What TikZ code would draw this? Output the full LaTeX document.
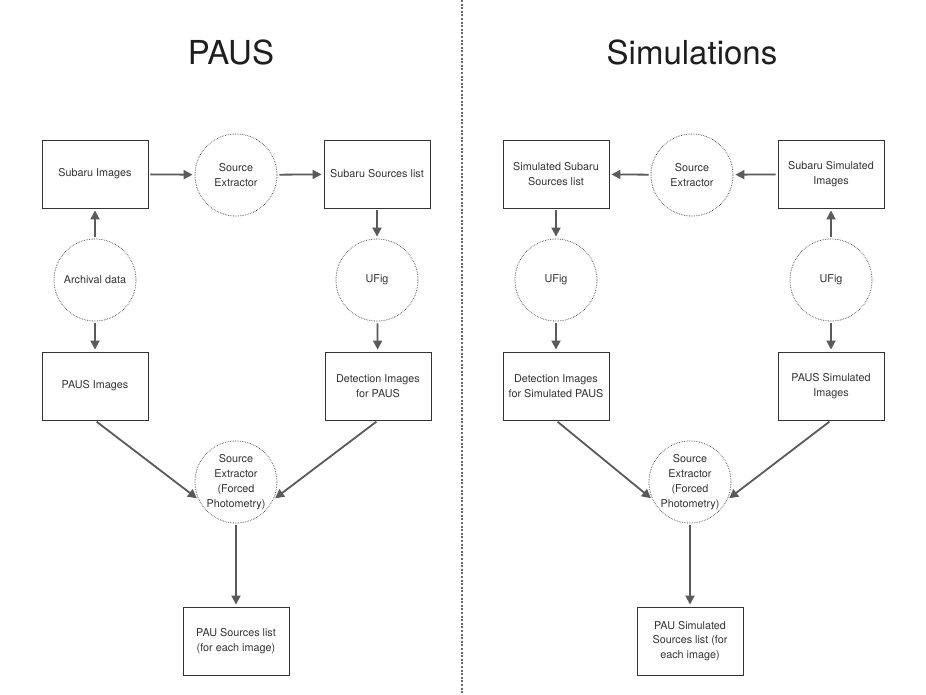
\documentclass[tikz,border=0pt]{standalone}
\usepackage{fontspec}
\setmainfont{TeX Gyre Heros}
\usetikzlibrary{arrows.meta}
\definecolor{boxc}{HTML}{333333}
\definecolor{circc}{HTML}{444444}
\definecolor{arrc}{HTML}{5A5A5A}
\definecolor{txt}{HTML}{333333}
\definecolor{ttl}{HTML}{1E1E1E}
\definecolor{sep}{HTML}{6A6A6A}
\begin{document}
\begin{tikzpicture}[x=1pt,y=-1pt,
  box/.style={draw=boxc, line width=0.9pt, minimum width=106pt, minimum height=68pt,
    align=center, font=\fontsize{10.8}{14.8}\selectfont, text=txt, inner sep=2pt},
  circ/.style={circle, draw=circc, line width=0.8pt, dash pattern=on 0.6pt off 1.1pt,
    minimum size=82pt, align=center, font=\fontsize{10.8}{14.8}\selectfont, text=txt, inner sep=0pt},
  arr/.style={draw=arrc, line width=1.8pt, -{Triangle[length=9pt,width=9pt]},
    shorten >=2pt, shorten <=2pt},
  title/.style={font=\fontsize{33}{38}\selectfont, text=ttl}
  ]
\useasboundingbox (0,0) rectangle (926,695);
\fill[white] (0,0) rectangle (926,695);

% separator
\coordinate (septop) at (462,0);
\coordinate (sepbot) at (462,695);
\draw[sep, line width=1.3pt, dash pattern=on 2pt off 1.6pt] (septop) -- (sepbot);

% titles
\node[title] (t1) at (231,52) {PAUS};
\node[title] (t2) at (692,52) {Simulations};

% ---------- left: PAUS ----------
\node[box] (subimg) at (95,174) {Subaru Images};
\node[circ] (se1) at (236,175) {Source\\Extractor};
\node[box] (sublist) at (377,174) {Subaru Sources list};
\node[circ] (arch) at (95,280) {Archival data};
\node[circ] (ufig1) at (377,280) {UFig};
\node[box] (pausimg) at (95,386) {PAUS Images};
\node[box] (detimg) at (378,386) {Detection Images\\for PAUS};
\node[circ] (forced1) at (236,482) {Source\\Extractor\\(Forced\\Photometry)};
\node[box] (paulist) at (236,641) {PAU Sources list\\(for each image)};

\draw[arr] (subimg) -- (se1);
\draw[arr] (se1) -- (sublist);
\draw[arr] (arch) -- (subimg);
\draw[arr] (arch) -- (pausimg);
\draw[arr] (sublist) -- (ufig1);
\draw[arr] (ufig1) -- (detimg);
\draw[arr] (pausimg.south) -- (forced1.205);
\draw[arr] (detimg.south) -- (forced1.335);
\draw[arr] (forced1) -- (paulist);

% ---------- right: Simulations ----------
\node[box] (simsublist) at (556,174) {Simulated Subaru\\Sources list};
\node[circ] (se2) at (692,175) {Source\\Extractor};
\node[box] (subsimimg) at (831,174) {Subaru Simulated\\Images};
\node[circ] (ufig2) at (556,280) {UFig};
\node[circ] (ufig3) at (831,280) {UFig};
\node[box] (detsim) at (556,386) {Detection Images\\for Simulated PAUS};
\node[box] (pausim) at (831,386) {PAUS Simulated\\Images};
\node[circ] (forced2) at (690,482) {Source\\Extractor\\(Forced\\Photometry)};
\node[box] (pausimlist) at (690,641) {PAU Simulated\\Sources list (for\\each image)};

\draw[arr] (subsimimg) -- (se2);
\draw[arr] (se2) -- (simsublist);
\draw[arr] (ufig3) -- (subsimimg);
\draw[arr] (ufig3) -- (pausim);
\draw[arr] (simsublist) -- (ufig2);
\draw[arr] (ufig2) -- (detsim);
\draw[arr] (detsim.south) -- (forced2.205);
\draw[arr] (pausim.south) -- (forced2.335);
\draw[arr] (forced2) -- (pausimlist);
\end{tikzpicture}
\end{document}
